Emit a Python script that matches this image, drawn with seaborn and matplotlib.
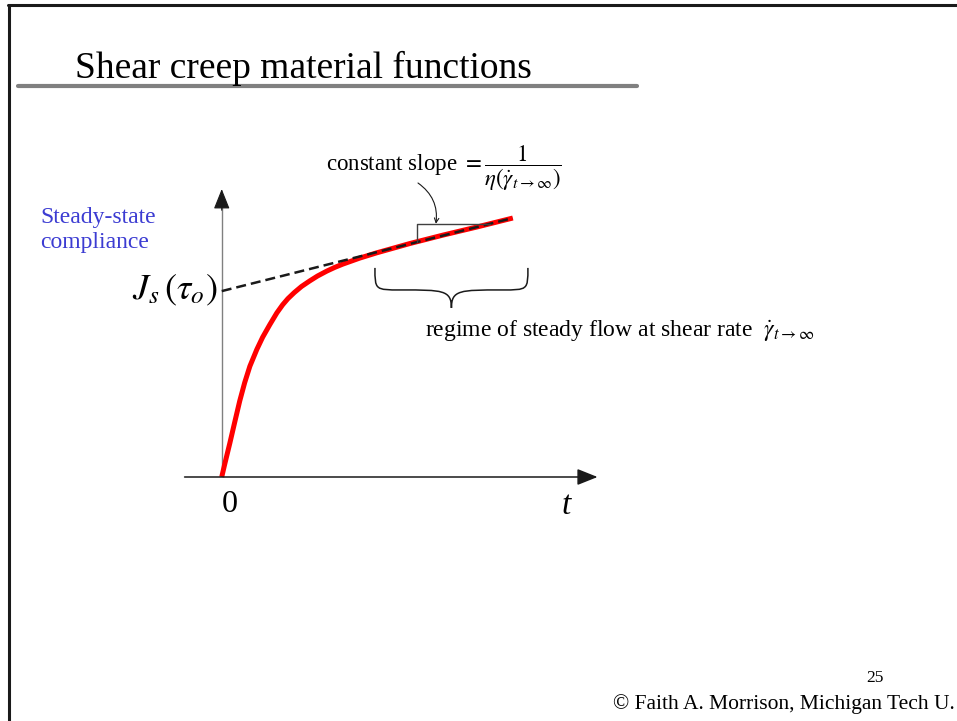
import numpy as np
import pandas as pd
import seaborn as sns
import matplotlib.pyplot as plt
from matplotlib.lines import Line2D
from matplotlib.path import Path
from matplotlib.patches import PathPatch

# creep compliance curve J(t) (arbitrary units)
t_vals = [0, 0.10, 0.28, 0.45, 0.62, 0.79, 0.97, 1.21, 1.41, 1.66, 1.90, 2.10, 2.28,
          2.50, 2.75, 3.03, 3.30, 3.62, 3.90, 4.17, 4.76, 5.34, 6.48, 7.62, 8.79, 10.03]
J_vals = [0, 0.43, 1.17, 1.90, 2.62, 3.25, 3.82, 4.40, 4.82, 5.26, 5.66, 5.94, 6.15,
          6.36, 6.57, 6.76, 6.93, 7.10, 7.23, 7.34, 7.55, 7.73, 8.05, 8.34, 8.62, 8.93]

# steady-state asymptote: intercept J_s and end point
Js = 6.41
asym_t = [0, 10.03]
asym_J = [Js, 8.93]

# slope triangle and steady-flow regime (t values)
tri_t = [6.72, 9.24]
regime_t = [5.28, 10.55]

sns.set_theme(style='white')
plt.rcParams['font.family'] = ['Liberation Serif', 'DejaVu Serif']
plt.rcParams['mathtext.fontset'] = 'stix'
plt.rcParams['text.color'] = 'black'

W, H = 957, 721
fx = lambda x: x / W
fy = lambda y: 1 - y / H

fig = plt.figure(figsize=(9.57, 7.21), dpi=100)
fig.patch.set_facecolor('white')
ax = fig.add_axes([fx(184), fy(477), (599 - 184) / W, 290 / H])
ax.set_xlim(-1.3, 13.0)
ax.set_ylim(0, 10)
ax.axis('off')

# axes arrows
ax.plot([0, 0], [0, 9.3], color='#808080', lw=1.0)
ax.annotate('', xy=(0, 9.93), xytext=(0, 9.2),
            arrowprops=dict(arrowstyle='-|>,head_length=0.5,head_width=0.2',
                            mutation_scale=25, color='k', lw=0.8, shrinkA=0, shrinkB=0))
ax.annotate('', xy=(12.95, 0), xytext=(-1.28, 0),
            arrowprops=dict(arrowstyle='-|>,head_length=0.5,head_width=0.2',
                            mutation_scale=25, color='k', lw=1.1, shrinkA=0, shrinkB=0))

# curve + asymptote
df = pd.DataFrame({'t': t_vals, 'J': J_vals})
sns.lineplot(data=df, x='t', y='J', color='#FF0000', lw=3.6, sort=False, ax=ax,
             clip_on=False, solid_capstyle='butt', solid_joinstyle='round')
sns.lineplot(x=asym_t, y=asym_J, color='k', lw=1.8, ls=(0, (4, 2)), ax=ax)

# slope triangle
slope = (asym_J[1] - asym_J[0]) / (asym_t[1] - asym_t[0])
J1 = Js + slope * tri_t[0]
J2 = Js + slope * tri_t[1]
ax.plot([tri_t[0], tri_t[0], tri_t[1]], [J1, J2, J2], color='#404040', lw=1.0)
ax.annotate('', xy=(7.38, J2), xycoords='data',
            xytext=(fx(418), fy(183)), textcoords='figure fraction',
            arrowprops=dict(arrowstyle='->', mutation_scale=8, lw=0.8, color='k',
                            connectionstyle='arc3,rad=-0.3', shrinkA=0, shrinkB=0))

# brace under the steady-flow regime
x0, x1 = regime_t
xc = (x0 + x1) / 2
ytop, ymid, ytip = 7.21, 6.45, 5.83
q = 0.9
verts = [(x0, ytop), (x0, ymid), (x0, ymid), (x0 + q, ymid),
         (xc - 0.3, ymid), (xc, ymid), (xc, ytip),
         (xc, ymid), (xc + 0.3, ymid), (x1 - q, ymid),
         (x1, ymid), (x1, ymid), (x1, ytop)]
codes = [Path.MOVETO] + [Path.CURVE4] * 12
ax.add_patch(PathPatch(Path(verts, codes), fill=False, lw=1.1, edgecolor='k'))

# slide frame, title and underline
fig.add_artist(Line2D([fx(8), 1], [fy(5), fy(5)], color='k', lw=2.2))
fig.add_artist(Line2D([fx(9), fx(9)], [fy(5), 0], color='k', lw=2.2))
fig.add_artist(Line2D([fx(18), fx(637)], [fy(85.5), fy(85.5)], color='#808080', lw=3))
fig.text(fx(75), fy(78), 'Shear creep material functions', fontsize=27, va='baseline')

# labels
fig.text(fx(40), fy(230), 'Steady-state\ncompliance', color='#3C3CD2', fontsize=17,
         va='center', ha='left')
fig.text(fx(218), fy(290), r'$J_s\,\left(\tau_o\right)$', fontsize=26, ha='right', va='center')
fig.text(fx(230), fy(504), '0', fontsize=23, ha='center', va='center')
fig.text(fx(566), fy(506), 't', fontsize=24, style='italic', ha='center', va='center')
fig.text(fx(326), fy(171),
         r'constant slope $=\dfrac{1}{\eta(\dot{\gamma}_{t\rightarrow\infty})}$',
         fontsize=16.5, va='baseline')
fig.text(fx(425), fy(337),
         r'regime of steady flow at shear rate  $\dot{\gamma}_{t\rightarrow\infty}$',
         fontsize=17, va='baseline')
fig.text(fx(875), fy(682), '25', fontsize=12.5, ha='center', va='baseline')
fig.text(fx(613), fy(709), '\u00a9 Faith A. Morrison, Michigan Tech U.', fontsize=15.5,
         va='baseline')

fig.savefig('out.png', dpi=100, facecolor='white')
